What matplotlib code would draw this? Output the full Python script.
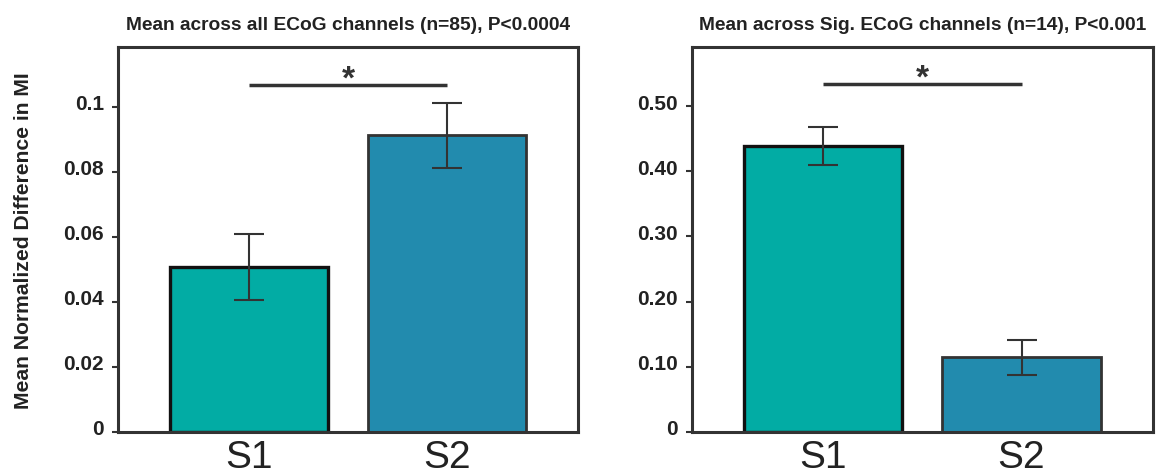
import matplotlib
matplotlib.use("Agg")
import matplotlib.pyplot as plt
import matplotlib.transforms as mtransforms

plt.rcParams['font.family'] = ['Liberation Sans', 'DejaVu Sans']

# Data
conditions = ["S1", "S2"]
all_means = [0.0507, 0.0912]
all_errs = [0.0101, 0.0101]
sig_means = [0.439, 0.114]
sig_errs = [0.029, 0.027]

all_ticks = [0, 0.02, 0.04, 0.06, 0.08, 0.1]
all_tick_labels = ["0", "0.02", "0.04", "0.06", "0.08", "0.1"]
sig_ticks = [0, 0.10, 0.20, 0.30, 0.40, 0.50]
sig_tick_labels = ["0", "0.10", "0.20", "0.30", "0.40", "0.50"]

titles = ["Mean across all ECoG channels (n=85), P<0.0004",
          "Mean across Sig. ECoG channels (n=14), P<0.001"]
ylabel = "Mean Normalized Difference in MI"

colors = ["#02ACA4", "#228BAE"]
edgecolors = ["#111111", "#333333"]
edgewidths = [2.4, 2.0]
dark = "#333333"

fig = plt.figure(figsize=(11.58, 4.77), dpi=100)
ax1 = fig.add_axes([0.1019, 0.0929, 0.3972, 0.8058])
ax2 = fig.add_axes([0.5976, 0.0929, 0.3977, 0.8058])

panels = [
    (ax1, all_means, all_errs, all_ticks, all_tick_labels, 0.1183, 0.1066),
    (ax2, sig_means, sig_errs, sig_ticks, sig_tick_labels, 0.5905, 0.534),
]

x = list(range(len(conditions)))
for i, (ax, means, errs, ticks, tlabels, ytop, sig_y) in enumerate(panels):
    for xi, m, e, c, ec, lw in zip(x, means, errs, colors, edgecolors, edgewidths):
        ax.bar(xi, m, width=0.8, color=c, edgecolor=ec, linewidth=lw, zorder=2)
        ax.errorbar(xi, m, yerr=e, fmt='none', ecolor=dark, elinewidth=1.5,
                    capsize=11, capthick=1.5, zorder=3)
    # significance bracket
    ax.plot([x[0], x[1]], [sig_y, sig_y], color=dark, lw=2.5,
            solid_capstyle='butt', zorder=3)
    ax.annotate("*", xy=(0.5 * (x[0] + x[1]), sig_y), xytext=(0, -7),
                textcoords='offset points', ha='center', va='bottom',
                fontsize=24, fontweight='bold', color=dark)

    ax.set_xlim(-0.66, 1.66)
    ax.set_ylim(0, ytop)
    ax.set_xticks(x)
    ax.set_xticklabels(conditions, fontsize=28)
    ax.tick_params(axis='x', length=0, pad=5, colors='#222222')
    ax.set_yticks(ticks)
    ax.set_yticklabels(tlabels, fontsize=15, fontweight='bold')
    ax.tick_params(axis='y', direction='out', length=4, width=1.5,
                   color=dark, pad=6, labelcolor='#222222')
    offset = mtransforms.ScaledTranslation(0, 5 / 100, fig.dpi_scale_trans)
    for lab in ax.get_yticklabels():
        lab.set_transform(lab.get_transform() + offset)
    for sp in ax.spines.values():
        sp.set_color(dark)
        sp.set_linewidth(2.2)
    ax.set_title(titles[i], fontsize=13.8, fontweight='bold', color='#222222', pad=13)

ax1.set_ylabel(ylabel, fontsize=15.2, fontweight='bold', color='#222222', labelpad=22)

fig.savefig("out.png", dpi=100, facecolor='white')
